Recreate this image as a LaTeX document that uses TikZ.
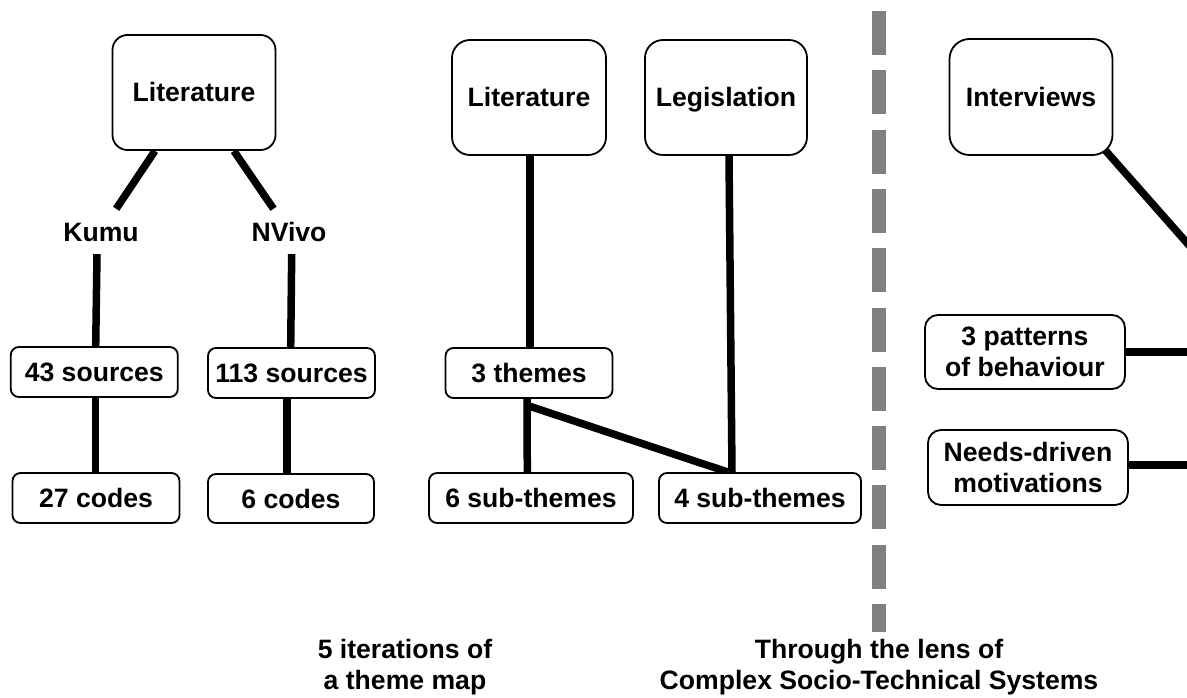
\documentclass[tikz,border=0pt]{standalone}
\usepackage{fontspec}
\setmainfont{Liberation Sans}
\usetikzlibrary{backgrounds}
\definecolor{dividergray}{RGB}{128,128,128}
\begin{document}
\begin{tikzpicture}[x=1pt,y=-1pt,
  every node/.style={font=\fontsize{26.6}{31}\selectfont\bfseries},
  box/.style={draw=black, line width=1.8pt, fill=white, rounded corners=#1,
    inner sep=0pt, align=center},
  oneline/.style={text height=19pt, text depth=0pt},
  tool/.style={inner xsep=2pt, inner ysep=13pt, text height=19pt, text depth=0pt},
  caption/.style={align=center, inner sep=0pt},
  link/.style={line width=7.5pt, black},
  divider/.style={line width=14pt, dividergray, dash pattern=on 44pt off 15.3pt}]

\useasboundingbox (0,0) rectangle (1187,698);

% ---- left group: literature review with two tools
\node[box=15, oneline, minimum width=163pt, minimum height=115pt] (litA) at (194,92.5) {Literature};
\node[tool] (kumu)  at (101,231.5) {Kumu};
\node[tool] (nvivo) at (289,231.5) {NVivo};
\node[box=8, oneline, minimum width=167pt, minimum height=50pt] (srcA) at (94.3,372) {43 sources};
\node[box=8, oneline, minimum width=167pt, minimum height=50pt] (srcB) at (291.5,373) {113 sources};
\node[box=8, oneline, minimum width=167pt, minimum height=50pt] (codesA) at (96,498) {27 codes};
\node[box=8, oneline, minimum width=166pt, minimum height=49pt] (codesB) at (291,498.5) {6 codes};

% ---- middle group: theme map
\node[box=18, oneline, minimum width=154pt, minimum height=115pt] (litB) at (529,97.5) {Literature};
\node[box=18, oneline, minimum width=162pt, minimum height=115pt] (legis) at (726,97.5) {Legislation};
\node[box=8, oneline, minimum width=167pt, minimum height=50pt] (themes) at (529,373) {3 themes};
\node[box=8, oneline, minimum width=204pt, minimum height=50pt] (subA) at (531,498) {6 sub-themes};
\node[box=8, oneline, minimum width=202pt, minimum height=50pt] (subB) at (760,498) {4 sub-themes};

% ---- right group: interviews
\node[box=20, oneline, minimum width=163pt, minimum height=116pt] (interv) at (1031,97) {Interviews};
\node[box=13, minimum width=200pt, minimum height=74pt] (patterns) at (1025,352) {3 patterns\\of behaviour};
\node[box=13, minimum width=200pt, minimum height=75pt] (needs) at (1028,467.5) {Needs-driven\\motivations};

% ---- captions
\node[caption] (capA) at (405,667.3) {5 iterations of\\a theme map};
\node[caption] (capB) at (879,667.3) {Through the lens of\\Complex Socio-Technical Systems};

% ---- free ends at the right border
\coordinate (edgeK) at (1200,257.7);
\coordinate (edgeP) at (1200,352);
\coordinate (edgeN) at (1200,465);

% ---- dashed divider
\coordinate (divTop) at (879,11);
\coordinate (divBot) at (879,632);

\begin{pgfonlayer}{background}
  \fill[white] (0,0) rectangle (1187,698);
  \begin{scope}
    \clip (0,0) rectangle (1187,698);
    \draw[divider] (divTop) -- (divBot);
    % left group
    \draw[link] (litA) -- (kumu);
    \draw[link] (litA) -- (nvivo);
    \draw[link] ([xshift=-4pt]kumu.south) -- ([xshift=1.4pt]srcA.north);
    \draw[link] ([xshift=2.7pt]nvivo.south) -- ([xshift=-0.8pt]srcB.north);
    \draw[link] ([xshift=1.4pt]srcA.south) -- ([xshift=-0.3pt]codesA.north);
    \draw[link] ([xshift=-4.5pt]srcB.south) -- ([xshift=-4pt]codesB.north);
    % middle group
    \draw[link] ([xshift=1pt]litB.south) -- ([xshift=1pt]themes.north);
    \draw[link] ([xshift=3pt]legis.south) -- ([xshift=-28pt]subB.north);
    \draw[link] ([xshift=-2pt]themes.south) -- coordinate[pos=0.088] (fork) ([xshift=-3.7pt]subA.north);
    \draw[link] (fork) -- ([xshift=-32pt]subB.north);
    % right group
    \draw[link] ([shift={(44,19)}]interv.center) -- (edgeK);
    \draw[link] (patterns.east) -- (edgeP);
    \draw[link] ([yshift=2.5pt]needs.east) -- (edgeN);
  \end{scope}
\end{pgfonlayer}
\end{tikzpicture}
\end{document}
